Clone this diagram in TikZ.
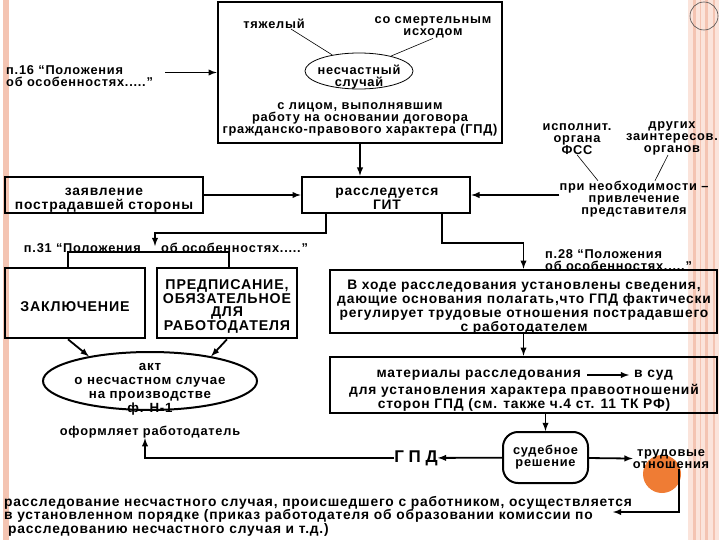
\documentclass[tikz,border=0pt]{standalone}
\usepackage{fontspec}
\setmainfont{Liberation Sans}[LetterSpace=6]
\newfontfamily\plainfont{Liberation Sans}
\usetikzlibrary{shapes.geometric}
\definecolor{stripe}{RGB}{244,196,178}
\definecolor{stripelight}{RGB}{251,228,219}
\definecolor{dot}{RGB}{239,124,52}

\begin{document}
\begin{tikzpicture}[
		x=1pt, y=-1pt,
		every node/.style={align=center, inner sep=0pt},
		t11/.style={font=\bfseries\fontsize{12.8}{12}\selectfont},
		t12/.style={font=\bfseries\fontsize{13.8}{14}\selectfont},
		tcap/.style={font=\bfseries\fontsize{14.2}{13.8}\selectfont},
		tact/.style={font=\bfseries\fontsize{13.3}{14}\selectfont},
		tlow/.style={font=\bfseries\fontsize{13.8}{13.5}\selectfont},
		frame/.style={draw, line width=2.6pt},
		conn/.style={line width=1.8pt},
		arr/.style={line width=1.8pt, -latex},
		hair/.style={line width=0.6pt}
		]
		\useasboundingbox (0,0) rectangle (720,540);
		\fill[stripe] (3,0) rectangle (9,540);
		\fill[stripelight] (688,0) rectangle (719,540);
		\fill[stripe] (693,0) rectangle (696,540);
		\fill[stripe] (699.5,0) rectangle (701,540);
		\fill[stripe] (705,0) rectangle (708,540);
		\fill[stripe] (713,0) rectangle (715,540);
		\draw[black!70, line width=0.6pt] (704,16) circle (14pt);
		\fill[dot] (662,474) circle (19pt);

		\node[frame, minimum width=284pt, minimum height=141pt] (event) at (360,72.5) {};
		\node[t11] (heavy) at (274,24) {тяжелый};
		\node[t11] (fatal) at (433,27.5) {со смертельным\\исходом};
		\node[draw, ellipse, line width=0.8pt, minimum width=108pt, minimum height=36pt] (acc) at (359,71) {};
		\node[t11] (acctxt) at (359,77) {несчастный\\случай};
		\node[t11] (person) at (360,119) {с лицом, выполнявшим\\работу на основании договора\\гражданско-правового характера (ГПД)};
		\node[t11, align=left, anchor=west] (p16) at (6,76) {п.16 “Положения\\об особенностях.....”};

		\node[frame, minimum width=198pt, minimum height=36pt] (claim) at (104,195) {};
		\node[t12] (claimtxt) at (104,200.5) {заявление\\пострадавшей стороны};
		\node[frame, minimum width=168pt, minimum height=36pt] (git) at (386,195) {};
		\node[t12] (gittxt) at (387,199) {расследуется\\ГИТ};
		\node[t11] (fss) at (577,139) {исполнит.\\органа\\ФСС};
		\node[t11] (others) at (672,138) {других\\заинтересов.\\органов};
		\node[t11] (need) at (634,199) {при необходимости –\\привлечение\\представителя};

		\node[t11, anchor=east] (p31a) at (141,248) {п.31 “Положения};
		\node[t11, anchor=west] (p31b) at (161,248) {об особенностях.....”};
		\coordinate (p31) at (155,246);
		\node[frame, minimum width=140pt, minimum height=70pt] (concl) at (75,303) {};
		\node[tcap] (concltxt) at (75,307) {ЗАКЛЮЧЕНИЕ};
		\node[frame, minimum width=140pt, minimum height=70pt] (order) at (227,303) {};
		\node[tcap] (ordertxt) at (227,306.5) {ПРЕДПИСАНИЕ,\\ОБЯЗАТЕЛЬНОЕ\\ДЛЯ\\РАБОТОДАТЕЛЯ};
		\node[draw, ellipse, line width=2pt, minimum width=214pt, minimum height=58pt] (act) at (150,381) {};
		\node[tact] (acttxt) at (150,389) {акт\\о несчастном случае\\на производстве\\ф. Н-1};
		\node[t11] (employer) at (150,432) {оформляет работодатель};

		\node[t11, align=left, anchor=west] (p28) at (545,260) {п.28 “Положения\\об особенностях.....”};
		\node[frame, minimum width=387pt, minimum height=63pt] (facts) at (523.5,301.5) {};
		\node[t12] (factstxt) at (524,307) {В ходе расследования установлены сведения,\\дающие основания полагать,что ГПД фактически\\регулирует трудовые отношения пострадавшего\\с работодателем};
		\node[frame, minimum width=387pt, minimum height=56pt] (court) at (523.5,385) {};
		\node[t12, anchor=east] (courta) at (581,375) {материалы расследования};
		\node[t12, anchor=west] (courtb) at (634,375) {в суд};
		\node[t12] (courtc) at (524,397.5) {для установления характера правоотношений\\сторон ГПД (см. также ч.4 ст. 11 ТК РФ)};
		\node[t11, draw, rounded corners=15pt, line width=2pt, minimum width=85pt, minimum height=51pt] (verdict) at (545.5,457.5) {судебное\\решение};
		\node[font=\plainfont\bfseries\fontsize{17}{17}\selectfont] (gpd) at (416,458) {Г П Д};
		\node[t11] (labour) at (671,459) {трудовые\\отношения};
		\coordinate (procend) at (613,512);
		\node[tlow, align=left, anchor=north west] (proc) at (4,496) {расследование несчастного случая, происшедшего с работником, осуществляется\\в установленном порядке (приказ работодателя об образовании комиссии по\\\hspace*{4pt}расследованию несчастного случая и т.д.)};

		\draw[hair] ([xshift=17pt]heavy.south) -- (acc.149);
		\draw[hair] (fatal.south) -- (acc.25);
		\draw[arr] ([xshift=12pt]p16.east |- event.west) -- (event.west);
		\draw[arr] (event.south) -- (event.south |- git.north);
		\draw[arr] (claim.east) -- (git.west);
		\draw[arr] (need.west |- git.east) -- (git.east);
		\draw[hair] (fss.south) -- ([xshift=-36pt]need.north);
		\draw[hair] ([xshift=-4pt]others.south) -- ([xshift=21pt]need.north);
		\draw[arr] ([xshift=25pt]git.south west) -- ++(0,19) -| (p31);
		\draw[conn] ([xshift=-7pt]concl.north) -- ++(0,-15) -| ([xshift=2pt]order.north);
		\draw[arr] ([xshift=-29pt]git.south east) -- ++(0,29) -| (facts.north);
		\draw[arr] ([xshift=-7pt]concl.south) -- (act.158);
		\draw[arr] (order.south) -- (act.22);
		\draw[arr] (facts) -- (court);
		\draw[arr, shorten <=6pt, shorten >=5pt] (courta) -- (courtb);
		\draw[arr] (court.south -| verdict) -- (verdict);
		\draw[arr] (verdict) -- (gpd);
		\draw[arr] (verdict) -- (labour);
		\draw[arr] (gpd.west) -| ([xshift=-5pt]employer.south);
		\draw[arr] ([xshift=8pt]labour.south) |- (procend);
	\end{tikzpicture}
\end{document}
